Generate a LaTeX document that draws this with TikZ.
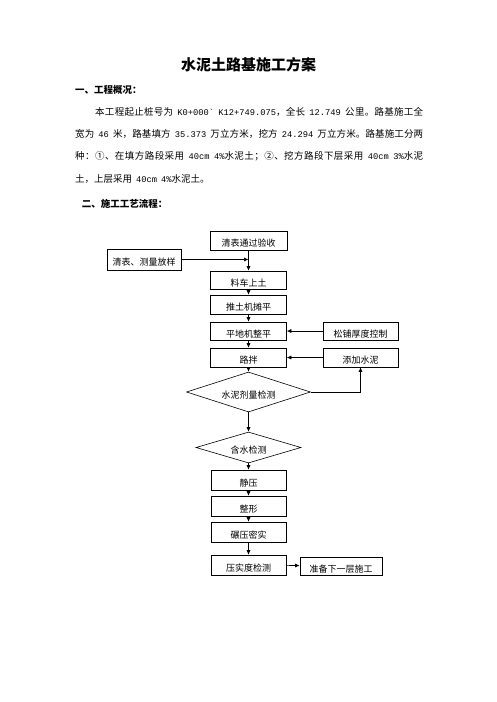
\documentclass[tikz,border=0pt]{standalone}
\usepackage{fontspec}
\setmainfont{Noto Sans CJK SC}
\newfontfamily\lat[Scale=0.92]{Liberation Mono}
\usetikzlibrary{shapes.geometric,arrows.meta}
\newcount\mycc
\mycc="4E00
\loop \XeTeXcharclass\mycc=1 \advance\mycc by 1 \ifnum\mycc<"A000 \repeat
\mycc="3000
\loop \XeTeXcharclass\mycc=1 \advance\mycc by 1 \ifnum\mycc<"3040 \repeat
\mycc="FF00
\loop \XeTeXcharclass\mycc=1 \advance\mycc by 1 \ifnum\mycc<"FFF0 \repeat
\mycc="2460
\loop \XeTeXcharclass\mycc=1 \advance\mycc by 1 \ifnum\mycc<"2500 \repeat
\XeTeXinterchartokenstate=1
\XeTeXinterchartoks 1 1 = {\hskip0pt plus 1pt\relax}
\XeTeXinterchartoks 1 0 = {\hskip0pt plus 1pt\relax}
\XeTeXinterchartoks 0 1 = {\hskip0pt plus 1pt\relax}
\newcommand\gap{\hskip 4pt plus 1pt\relax}
\begin{document}
\begin{tikzpicture}[x=1pt,y=-1pt,
  box/.style={draw, line width=0.6pt, minimum width=76pt, minimum height=19pt, inner sep=0pt,
    font=\fontsize{9}{10}\selectfont, text height=12pt, text depth=0pt},
  dia/.style={draw, diamond, line width=0.6pt, inner sep=0pt, aspect=3,
    font=\fontsize{9}{10}\selectfont, text height=12pt, text depth=0pt},
  arr/.style={-{Latex[length=4.5pt,width=4pt]}, line width=0.6pt},
  body/.style={anchor=base west, inner sep=0pt, font=\fontsize{9.5}{11}\selectfont},
  head/.style={anchor=base west, inner sep=0pt, font=\fontsize{9.5}{11}\selectfont\bfseries}]
\useasboundingbox (0,0) rectangle (496,702);
\fill[white] (0,0) rectangle (496,702);

% header text
\node[anchor=base, inner sep=0pt, font=\fontsize{15}{18}\selectfont\bfseries] (title) at (248.5,70.7) {水泥土路基施工方案};
\node[head] (h1) at (75,93.6) {一、工程概况：};
\node[body] (p1) at (95,115.5) {\makebox[328pt][s]{本工程起止桩号为\gap{\lat K0+000\textasciigrave}\gap{\lat K12+749.075}，全长\gap{\lat 12.749}\gap 公里。路基施工全}};
\node[body] (p2) at (75,137.7) {\makebox[348pt][s]{宽为\gap{\lat 46}\gap 米，路基填方\gap{\lat 35.373}\gap 万立方米，挖方\gap{\lat 24.294}\gap 万立方米。路基施工分两}};
\node[body] (p3) at (75,159.9) {\makebox[348pt][s]{种：①、在填方路段采用\gap{\lat 40cm}\gap{\lat 4\%}水泥土；②、挖方路段下层采用\gap{\lat 40cm}\gap{\lat 3\%}水泥}};
\node[body] (p4) at (75,182.1) {土，上层采用\gap{\lat 40cm}\gap{\lat 4\%}水泥土。};
\node[head] (h2) at (81.7,207) {二、施工工艺流程：};

% flowchart boxes
\node[box, minimum width=77pt] (A) at (248.5,240.5) {清表通过验收\hspace{14pt}};
\node[box, minimum width=74pt, minimum height=21pt] (B) at (144,259.5) {清表、测量放样\hspace{4pt}};
\node[box, minimum height=18pt] (C) at (248.5,280) {料车上土};
\node[box] (D) at (248.5,304.5) {推土机摊平};
\node[box, minimum height=18pt] (E) at (248.5,331) {平地机整平};
\node[box, minimum width=75pt, minimum height=18pt] (F) at (360.5,331) {松铺厚度控制};
\node[box] (G) at (248.5,357.5) {路拌};
\node[box, minimum width=75pt] (H) at (360.5,357.5) {添加水泥};
\node[dia, minimum width=124pt, minimum height=40pt] (I) at (248.5,392) {水泥剂量检测};
\node[dia, minimum width=105pt, minimum height=31pt] (J) at (248.5,447.5) {含水检测};
\node[box, minimum width=75pt, minimum height=20pt] (K) at (248.5,480) {静压};
\node[box, minimum width=75pt, minimum height=20pt] (L) at (248.5,506) {整形};
\node[box, minimum width=75pt, minimum height=20pt] (M) at (248.5,532) {碾压密实};
\node[box, minimum width=75pt, minimum height=20pt] (N) at (248.5,565) {压实度检测};
\node[box, minimum width=82pt, minimum height=18pt] (O) at (341,566) {准备下一层施工};

% connectors
\draw[arr] (A.south) -- (C.north);
\draw[arr] (B.east) -- (B.east -| A.south);
\draw[arr] (C) -- (D);
\draw[arr] (D) -- (E);
\draw[arr] (F) -- (E);
\draw[arr] (E) -- (G);
\draw[arr] (H) -- (G);
\draw[arr] (G) -- (I);
\draw[arr] (I.east) -| (H.south);
\draw[arr] (I) -- (J);
\draw[arr] (J) -- (K);
\draw[arr] (K) -- (L);
\draw[arr] (L) -- (M);
\draw[arr] (M) -- (N);
\draw[arr] (N) -- (O);
\end{tikzpicture}
\end{document}
